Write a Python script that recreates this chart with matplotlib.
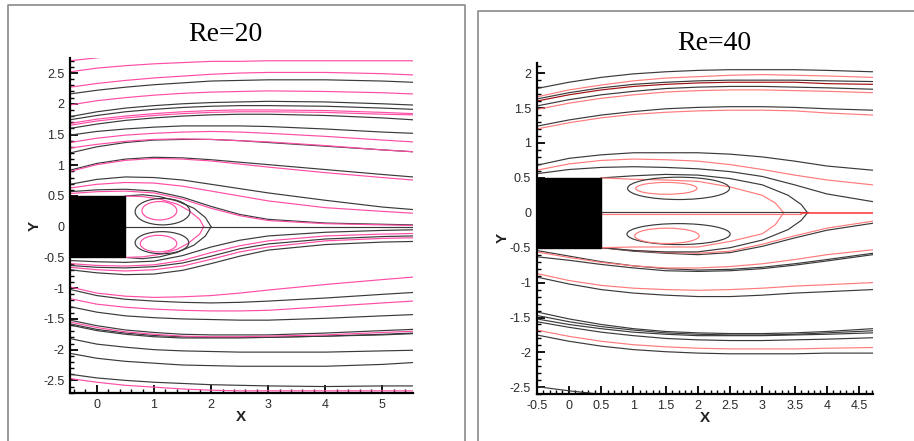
## Streamlines behind a square cylinder, Re=20 and Re=40, two Tecplot-like panels.

import matplotlib
matplotlib.use('Agg')
import matplotlib.pyplot as plt
from matplotlib.patches import Rectangle, Ellipse
from matplotlib.lines import Line2D
from matplotlib.ticker import MultipleLocator

## ---- Re=20 panel: streamline heights read at these x stations ----
x_re20 = [-0.47, 0, 0.5, 1, 1.5, 2, 2.5, 3, 4, 5, 5.53]

re20_black = [
    [2.16, 2.22, 2.27, 2.31, 2.34, 2.37, 2.38, 2.39, 2.39, 2.37, 2.35],
    [1.79, 1.87, 1.93, 1.97, 2.00, 2.02, 2.03, 2.04, 2.03, 2.00, 1.98],
    [1.74, 1.81, 1.87, 1.91, 1.94, 1.96, 1.97, 1.97, 1.96, 1.93, 1.91],
    [1.60, 1.67, 1.73, 1.77, 1.80, 1.82, 1.83, 1.83, 1.81, 1.77, 1.74],
    [1.49, 1.55, 1.59, 1.62, 1.64, 1.64, 1.64, 1.63, 1.59, 1.54, 1.52],
    [1.20, 1.30, 1.37, 1.41, 1.42, 1.42, 1.40, 1.37, 1.31, 1.25, 1.22],
    [0.92, 1.03, 1.10, 1.13, 1.12, 1.09, 1.05, 1.01, 0.93, 0.85, 0.81],
    [0.69, 0.77, 0.81, 0.80, 0.76, 0.69, 0.62, 0.55, 0.43, 0.32, 0.28],
    [0.57, 0.60, 0.61, 0.58, 0.48, 0.33, 0.20, 0.12, 0.06, 0.04, 0.03],
    [-0.55, -0.57, -0.58, -0.56, -0.47, -0.33, -0.22, -0.15, -0.09, -0.06, -0.05],
    [-0.63, -0.66, -0.67, -0.65, -0.59, -0.48, -0.36, -0.28, -0.20, -0.16, -0.15],
    [-0.70, -0.75, -0.78, -0.77, -0.71, -0.60, -0.48, -0.38, -0.29, -0.25, -0.24],
    [-1.02, -1.12, -1.18, -1.21, -1.23, -1.24, -1.23, -1.21, -1.16, -1.10, -1.07],
    [-1.30, -1.39, -1.45, -1.48, -1.50, -1.51, -1.52, -1.52, -1.49, -1.45, -1.43],
    [-1.52, -1.61, -1.68, -1.72, -1.75, -1.76, -1.76, -1.76, -1.73, -1.69, -1.67],
    [-1.58, -1.67, -1.73, -1.77, -1.79, -1.80, -1.80, -1.80, -1.78, -1.75, -1.73],
    [-1.60, -1.69, -1.75, -1.79, -1.81, -1.81, -1.81, -1.80, -1.78, -1.76, -1.74],
    [-1.82, -1.91, -1.96, -2.00, -2.02, -2.03, -2.04, -2.04, -2.04, -2.02, -2.01],
    [-2.06, -2.14, -2.19, -2.22, -2.25, -2.26, -2.27, -2.27, -2.27, -2.24, -2.21],
    [-2.40, -2.46, -2.50, -2.53, -2.55, -2.57, -2.58, -2.59, -2.60, -2.59, -2.59],
]

re20_pink = [
    [2.52, 2.58, 2.62, 2.65, 2.67, 2.69, 2.69, 2.70, 2.70, 2.70, 2.70],
    [2.27, 2.33, 2.38, 2.42, 2.45, 2.48, 2.50, 2.51, 2.51, 2.49, 2.47],
    [1.98, 2.05, 2.10, 2.14, 2.17, 2.19, 2.20, 2.21, 2.20, 2.18, 2.16],
    [1.68, 1.75, 1.80, 1.84, 1.87, 1.89, 1.90, 1.90, 1.89, 1.86, 1.84],
    [1.65, 1.72, 1.77, 1.81, 1.84, 1.86, 1.87, 1.87, 1.86, 1.83, 1.82],
    [1.37, 1.44, 1.49, 1.52, 1.54, 1.55, 1.54, 1.52, 1.47, 1.41, 1.38],
    [1.28, 1.34, 1.39, 1.42, 1.43, 1.42, 1.40, 1.38, 1.32, 1.25, 1.22],
    [0.90, 1.01, 1.08, 1.11, 1.10, 1.07, 1.02, 0.97, 0.88, 0.80, 0.76],
    [0.63, 0.69, 0.72, 0.71, 0.66, 0.58, 0.50, 0.42, 0.31, 0.25, 0.22],
    [0.54, 0.57, 0.58, 0.55, 0.45, 0.30, 0.18, 0.10, 0.05, 0.03, 0.02],
    [-0.60, -0.63, -0.64, -0.62, -0.55, -0.42, -0.31, -0.23, -0.15, -0.12, -0.11],
    [-0.66, -0.70, -0.72, -0.70, -0.64, -0.53, -0.41, -0.33, -0.23, -0.19, -0.18],
    [-0.98, -1.08, -1.13, -1.15, -1.14, -1.12, -1.08, -1.03, -0.94, -0.86, -0.82],
    [-1.17, -1.26, -1.31, -1.34, -1.36, -1.37, -1.37, -1.36, -1.30, -1.24, -1.21],
    [-1.55, -1.64, -1.71, -1.75, -1.78, -1.79, -1.79, -1.78, -1.76, -1.72, -1.70],
    [-2.47, -2.53, -2.58, -2.61, -2.64, -2.66, -2.67, -2.67, -2.67, -2.67, -2.67],
]

## short pink line leaving through the top edge
re20_top_x = [-0.47, 0.12]
re20_top_y = [2.70, 2.76]

## dividing streamlines around the recirculation zone (upper half, mirrored below)
re20_sep_black_x = [0.5, 0.8, 1.1, 1.4, 1.7, 1.9, 2.0]
re20_sep_black_y = [0.5, 0.52, 0.49, 0.42, 0.30, 0.15, 0.0]
re20_sep_pink_x = [0.5, 0.8, 1.1, 1.4, 1.6, 1.8, 1.87]
re20_sep_pink_y = [0.5, 0.49, 0.45, 0.37, 0.27, 0.12, 0.0]

## closed eddies: centre x, centre y, width, height
re20_eddy_black = [(1.15, 0.245, 0.96, 0.43), (1.14, -0.26, 0.94, 0.36)]
re20_eddy_pink = [(1.095, 0.26, 0.61, 0.30), (1.08, -0.275, 0.64, 0.27)]

## ---- Re=40 panel ----
x_re40 = [-0.5, 0, 0.5, 1, 1.5, 2, 2.5, 3, 3.5, 4, 4.71]

re40_black = [
    [1.78, 1.87, 1.94, 1.99, 2.02, 2.04, 2.05, 2.05, 2.05, 2.04, 2.02],
    [1.63, 1.72, 1.79, 1.84, 1.87, 1.89, 1.90, 1.90, 1.90, 1.89, 1.88],
    [1.53, 1.62, 1.69, 1.74, 1.78, 1.80, 1.81, 1.81, 1.80, 1.79, 1.77],
    [1.24, 1.33, 1.40, 1.45, 1.49, 1.51, 1.52, 1.52, 1.51, 1.49, 1.47],
    [0.68, 0.78, 0.83, 0.86, 0.86, 0.86, 0.84, 0.80, 0.74, 0.67, 0.61],
    [0.56, 0.62, 0.65, 0.66, 0.65, 0.63, 0.59, 0.52, 0.40, 0.27, 0.16],
    [-0.54, -0.62, -0.70, -0.76, -0.80, -0.82, -0.81, -0.78, -0.73, -0.67, -0.58],
    [-0.63, -0.68, -0.74, -0.79, -0.83, -0.84, -0.83, -0.80, -0.75, -0.69, -0.60],
    [-0.92, -1.02, -1.10, -1.15, -1.18, -1.20, -1.20, -1.18, -1.15, -1.13, -1.10],
    [-1.42, -1.52, -1.60, -1.66, -1.70, -1.72, -1.73, -1.73, -1.72, -1.70, -1.66],
    [-1.47, -1.56, -1.63, -1.68, -1.72, -1.74, -1.75, -1.75, -1.74, -1.72, -1.69],
    [-1.52, -1.60, -1.66, -1.71, -1.74, -1.76, -1.76, -1.76, -1.75, -1.74, -1.72],
    [-1.56, -1.64, -1.71, -1.76, -1.80, -1.82, -1.83, -1.83, -1.82, -1.81, -1.79],
    [-1.75, -1.84, -1.91, -1.96, -1.99, -2.01, -2.02, -2.02, -2.02, -2.01, -2.01],
]

re40_pink = [
    [1.66, 1.76, 1.83, 1.89, 1.93, 1.95, 1.97, 1.98, 1.97, 1.96, 1.94],
    [1.48, 1.57, 1.64, 1.69, 1.73, 1.75, 1.76, 1.76, 1.75, 1.74, 1.72],
    [1.20, 1.29, 1.36, 1.41, 1.44, 1.46, 1.47, 1.47, 1.46, 1.43, 1.40],
    [0.61, 0.70, 0.75, 0.77, 0.76, 0.74, 0.69, 0.62, 0.54, 0.47, 0.40],
    [-0.56, -0.64, -0.71, -0.76, -0.79, -0.79, -0.77, -0.73, -0.67, -0.60, -0.53],
    [-0.87, -0.97, -1.04, -1.08, -1.10, -1.11, -1.10, -1.08, -1.05, -1.03, -1.00],
    [-1.68, -1.77, -1.84, -1.89, -1.92, -1.94, -1.95, -1.95, -1.95, -1.94, -1.93],
]

re40_darkred = [
    [1.60, 1.69, 1.76, 1.81, 1.84, 1.86, 1.87, 1.87, 1.87, 1.85, 1.84],
]

## lines leaving the lower rear corner of the body
re40_wake_x = [0.5, 1, 1.5, 2, 2.5, 3, 3.5, 4, 4.71]
re40_wake_black = [-0.5, -0.55, -0.58, -0.60, -0.57, -0.48, -0.36, -0.25, -0.15]
re40_wake_pink = [-0.5, -0.54, -0.57, -0.58, -0.55, -0.45, -0.33, -0.22, -0.12]

## black line in the lower left corner
re40_corner_x = [-0.5, 0, 0.5]
re40_corner_y = [-2.49, -2.55, -2.60]

re40_sep_black_x = [0.5, 1.0, 1.5, 2.0, 2.5, 3.0, 3.4, 3.6, 3.7]
re40_sep_black_up = [0.5, 0.53, 0.55, 0.54, 0.49, 0.40, 0.25, 0.12, 0.0]
re40_sep_black_dn = [-0.5, -0.54, -0.56, -0.56, -0.50, -0.39, -0.24, -0.11, 0.0]
re40_sep_pink_x = [0.5, 1.0, 1.5, 2.0, 2.5, 3.0, 3.2, 3.33]
re40_sep_pink_up = [0.5, 0.48, 0.47, 0.45, 0.37, 0.25, 0.14, 0.0]
re40_sep_pink_dn = [-0.5, -0.49, -0.49, -0.49, -0.41, -0.30, -0.17, 0.0]

re40_eddy_black = [(1.70, 0.35, 1.58, 0.32), (1.70, -0.305, 1.60, 0.30)]
re40_eddy_pink = [(1.51, 0.35, 0.95, 0.17), (1.52, -0.33, 1.00, 0.22)]

BLACK = '#3a3a3a'
PINK20 = '#ff4da6'
RED40 = '#ff7a7a'
DARKRED = '#a01010'
LW = 0.85


def style_axes(ax, xlim, ylim, xmajor, xminor):
    '''
    Tecplot look: only left/bottom axis lines, ticks pointing inwards.
    '''
    ax.set_xlim(*xlim)
    ax.set_ylim(*ylim)
    for side in ['top', 'right']:
        ax.spines[side].set_visible(False)
    for side in ['left', 'bottom']:
        ax.spines[side].set_linewidth(1.6)
        ax.spines[side].set_color('black')
    ax.xaxis.set_major_locator(MultipleLocator(xmajor))
    ax.xaxis.set_minor_locator(MultipleLocator(xminor))
    ax.yaxis.set_major_locator(MultipleLocator(0.5))
    ax.yaxis.set_minor_locator(MultipleLocator(0.1))
    ax.tick_params(which='major', direction='in', length=6, width=1.3,
                   labelsize=9, labelcolor='#2a2a2a', color='black', pad=4)
    ax.tick_params(which='minor', direction='in', length=3, width=1.0, color='black')
    ax.xaxis.set_major_formatter(plt.FuncFormatter(lambda v, p: ('%g' % round(v, 2))))
    ax.yaxis.set_major_formatter(plt.FuncFormatter(lambda v, p: ('%g' % round(v, 2))))
    for lab in ax.get_xticklabels() + ax.get_yticklabels():
        lab.set_fontfamily('Liberation Sans')


def add_eddies(ax, eddies, color):
    for cx, cy, w, h in eddies:
        ax.add_patch(Ellipse((cx, cy), w, h, fill=False, edgecolor=color, lw=LW, zorder=3))


def plot_re20(ax):
    for ys in re20_black:
        ax.plot(x_re20, ys, color=BLACK, lw=LW)
    for ys in re20_pink:
        ax.plot(x_re20, ys, color=PINK20, lw=LW)
    ax.plot(re20_top_x, re20_top_y, color=PINK20, lw=LW)
    ax.plot(re20_sep_black_x, re20_sep_black_y, color=BLACK, lw=LW)
    ax.plot(re20_sep_black_x, [-v for v in re20_sep_black_y], color=BLACK, lw=LW)
    ax.plot(re20_sep_pink_x, re20_sep_pink_y, color=PINK20, lw=LW)
    ax.plot(re20_sep_pink_x, [-v for v in re20_sep_pink_y], color=PINK20, lw=LW)
    ax.plot([0.5, x_re20[-1]], [0, 0], color=BLACK, lw=LW)
    add_eddies(ax, re20_eddy_black, BLACK)
    add_eddies(ax, re20_eddy_pink, PINK20)
    ax.add_patch(Rectangle((-0.5, -0.5), 1.0, 1.0, color='black', zorder=5))
    style_axes(ax, (x_re20[0], x_re20[-1]), (-2.71, 2.74), 1, 0.2)


def plot_re40(ax):
    for ys in re40_black:
        ax.plot(x_re40, ys, color=BLACK, lw=LW)
    for ys in re40_pink:
        ax.plot(x_re40, ys, color=RED40, lw=LW)
    for ys in re40_darkred:
        ax.plot(x_re40, ys, color=DARKRED, lw=LW)
    ax.plot(re40_wake_x, re40_wake_black, color=BLACK, lw=LW)
    ax.plot(re40_wake_x, re40_wake_pink, color=RED40, lw=LW)
    ax.plot(re40_corner_x, re40_corner_y, color=BLACK, lw=LW)
    ax.plot(re40_sep_black_x, re40_sep_black_up, color=BLACK, lw=LW)
    ax.plot(re40_sep_black_x, re40_sep_black_dn, color=BLACK, lw=LW)
    ax.plot(re40_sep_pink_x, re40_sep_pink_up, color=RED40, lw=LW)
    ax.plot(re40_sep_pink_x, re40_sep_pink_dn, color=RED40, lw=LW)
    ## centreline: faint red under the black inside the bubble, solid red behind it
    ax.plot([0.5, 3.6], [-0.012, -0.012], color=RED40, lw=LW)
    ax.plot([0.5, 3.7], [0.005, 0.005], color=BLACK, lw=LW)
    ax.plot([3.6, x_re40[-1]], [-0.005, -0.005], color='#ff3030', lw=1.1)
    add_eddies(ax, re40_eddy_black, BLACK)
    add_eddies(ax, re40_eddy_pink, RED40)
    ax.add_patch(Rectangle((-0.5, -0.5), 1.0, 1.0, color='black', zorder=5))
    style_axes(ax, (x_re40[0], x_re40[-1]), (-2.6, 2.15), 0.5, 0.1)


def px(x, y):
    ## pixel position (from top-left) -> figure fraction
    return x / 914.0, 1 - y / 441.0


def main():
    fig = plt.figure(figsize=(9.14, 4.41), dpi=100)

    ## screenshot frames around each panel
    frame = '#8a8a8a'
    for pts in ([(465, 445), (465, 5), (8, 5), (8, 445)],
                [(477.7, 445), (477.7, 11), (918, 11)]):
        xs, ys = zip(*[px(a, b) for a, b in pts])
        fig.add_artist(Line2D(xs, ys, color=frame, lw=1.2, transform=fig.transFigure))

    ax1 = fig.add_axes([70 / 914, (441 - 393.3) / 441, 342.7 / 914, 335 / 441])
    ax2 = fig.add_axes([536.7 / 914, (441 - 394.3) / 441, 336 / 914, 331.6 / 441])
    plot_re20(ax1)
    plot_re40(ax2)

    fig.text(*px(225, 34.5), 'Re=20', family='Liberation Serif', fontsize=20,
             ha='center', va='center')
    fig.text(*px(714, 43), 'Re=40', family='Liberation Serif', fontsize=20,
             ha='center', va='center')
    lab = dict(family='Liberation Sans', fontsize=11, fontweight='bold',
               ha='center', va='center', color='#222222')
    fig.text(*px(241, 417), 'X', **lab)
    fig.text(*px(705, 418), 'X', **lab)
    fig.text(*px(35, 226), 'Y', rotation=90, **lab)
    fig.text(*px(503, 238), 'Y', rotation=90, **lab)

    fig.savefig('out.png', dpi=100)


if __name__ == '__main__':
    main()
